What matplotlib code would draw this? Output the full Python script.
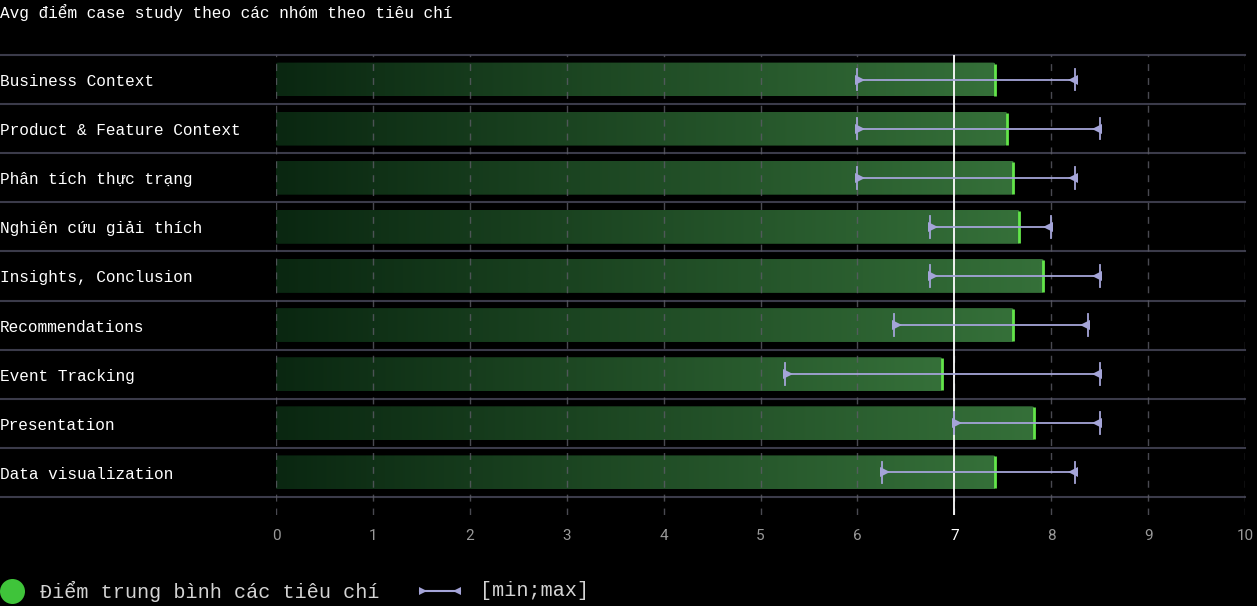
import matplotlib
matplotlib.use("Agg")
import matplotlib.pyplot as plt
import numpy as np
from matplotlib.patches import FancyBboxPatch
from matplotlib.colors import LinearSegmentedColormap

categories = ["Business Context", "Product & Feature Context", "Phân tích thực trạng",
              "Nghiên cứu giải thích", "Insights, Conclusion", "Recommendations",
              "Event Tracking", "Presentation", "Data visualization"]
avg_scores = [7.42, 7.54, 7.61, 7.67, 7.92, 7.61, 6.87, 7.82, 7.42]
min_scores = [6.0, 6.0, 6.0, 6.75, 6.75, 6.38, 5.25, 7.0, 6.25]
max_scores = [8.25, 8.5, 8.25, 8.0, 8.5, 8.38, 8.5, 8.5, 8.25]
x_ticks = list(range(0, 11))
reference_value = 7
title = "Avg điểm case study theo các nhóm theo tiêu chí"
legend_avg = "Điểm trung bình các tiêu chí"
legend_range = "[min;max]"

MONO = ["Liberation Mono", "DejaVu Sans Mono", "Noto Sans"]
BG = "#000000"
SEP = "#3b3b4a"
GRID = "#5c5c66"
ERR = "#a4a4d8"

fig = plt.figure(figsize=(12.57, 6.06), dpi=100, facecolor=BG)
ax = fig.add_axes([276/1257, 1 - 515/606, 969/1257, 460/606])
ax.set_facecolor(BG)
YLIM = (-0.5 + 460/49.1, -0.5)

cmap = LinearSegmentedColormap.from_list("g", ["#0a2711", "#357039"])
bar_h = 0.69
grad = np.linspace(0, 1, 256).reshape(1, -1)
for i, v in enumerate(avg_scores):
    patch = FancyBboxPatch((0, i - bar_h/2), v, bar_h,
                           boxstyle="round,pad=0,rounding_size=0.03",
                           mutation_aspect=49.1/96.9,
                           facecolor="none", edgecolor="none", zorder=2)
    ax.add_patch(patch)
    im = ax.imshow(grad, extent=(0, v, i + bar_h/2, i - bar_h/2), aspect="auto",
                   cmap=cmap, zorder=2, interpolation="bicubic")
    im.set_clip_path(patch)
    ax.plot([v, v], [i - bar_h/2 + 0.02, i + bar_h/2 - 0.02], color="#63e64a",
            lw=2, solid_capstyle="butt", zorder=3)

ax.set_xlim(0, 10)
ax.set_ylim(*YLIM)

for t in x_ticks:
    ax.axvline(t, color=GRID, lw=1, ls=(0, (5, 5)), alpha=0.8, zorder=4)

xmin_ax = -276/969
for k in range(len(categories) + 1):
    ax.axhline(k - 0.5, xmin=xmin_ax, xmax=1, color=SEP, lw=1.5, clip_on=False, zorder=1)

ax.axvline(reference_value, color="white", lw=1.3, zorder=6)

cap = 0.22
for i, (lo, hi) in enumerate(zip(min_scores, max_scores)):
    ax.plot([lo, hi], [i, i], color=ERR, lw=1.3, zorder=7)
    ax.plot([lo, lo], [i - cap, i + cap], color=ERR, lw=1.3, zorder=7)
    ax.plot([hi, hi], [i - cap, i + cap], color=ERR, lw=1.3, zorder=7)
    ax.plot([lo + 0.03], [i], marker=">", color=ERR, ms=6.5, mew=0, zorder=7)
    ax.plot([hi - 0.03], [i], marker="<", color=ERR, ms=6.5, mew=0, zorder=7)

for i, c in enumerate(categories):
    ax.text(-276/969, i + 0.04, c, transform=ax.get_yaxis_transform(), ha="left", va="center",
            color="white", fontsize=11.6, family=MONO)

ax.set_yticks([])
ax.set_xticks(x_ticks)
ax.set_xticklabels([str(t) for t in x_ticks], family=["Roboto", "DejaVu Sans"], fontsize=11)
for lab, t in zip(ax.get_xticklabels(), x_ticks):
    lab.set_color("white" if t == reference_value else "#9a9a9a")
ax.tick_params(axis="x", length=0, pad=10)
for s in ax.spines.values():
    s.set_visible(False)

fig.text(0, 1 - 13/606, title, ha="left", va="center", color="white", fontsize=11.6, family=MONO)

lax = fig.add_axes([0, 0, 1, 1], facecolor="none")
lax.set_xlim(0, 1257)
lax.set_ylim(606, 0)
lax.axis("off")
lax.plot([12], [591], marker="o", ms=18, color="#3fc43a", mew=0)
lax.text(40, 591, legend_avg, ha="left", va="center", color="#d4d4d4", fontsize=14.5, family=MONO)
lax.plot([420, 460], [591, 591], color=ERR, lw=1.5)
lax.plot([423], [591], marker=">", color=ERR, ms=6, mew=0)
lax.plot([457], [591], marker="<", color=ERR, ms=6, mew=0)
lax.text(480, 591, legend_range, ha="left", va="center", color="#d4d4d4", fontsize=14.5, family=MONO)

fig.savefig("out.png", dpi=100, facecolor=BG)
